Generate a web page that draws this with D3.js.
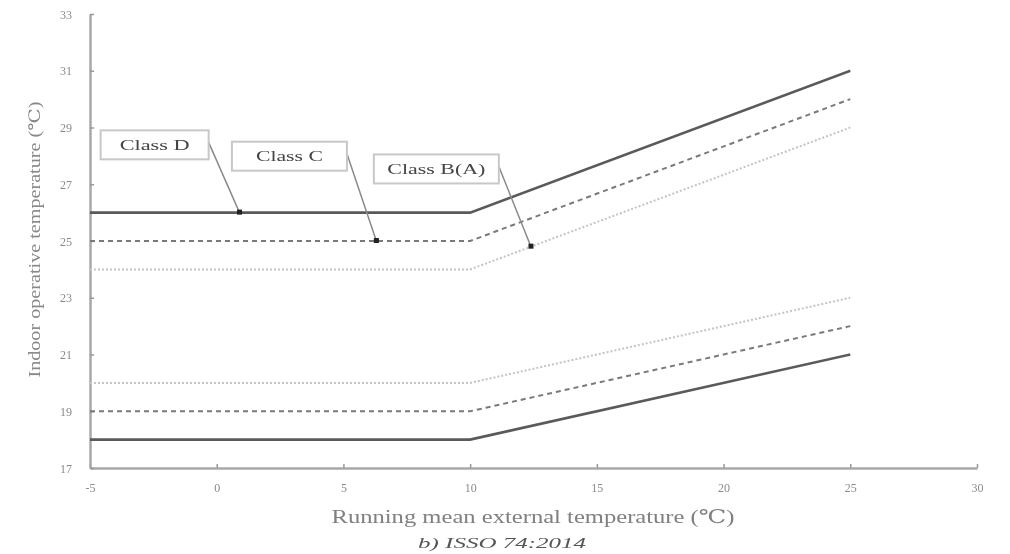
<!DOCTYPE html>
<html>
<head>
<meta charset="utf-8">
<script src="https://cdn.jsdelivr.net/npm/d3@7"></script>
<style>
  body { margin: 0; background: #fff; }
  svg { display: block; }
  text { font-family: "Liberation Serif", "DejaVu Serif", serif; }
</style>
</head>
<body>
<svg></svg>
<script>
const width = 1010;
const height = 554;

// breakpoints of the running mean external temperature
const tmBreaks = [-5, 10, 25];
// upper and lower limits per class
const upperD = [26, 26, 31];
const upperC = [25, 25, 30];
const upperB = [24, 24, 29];
const lowerB = [20, 20, 23];
const lowerC = [19, 19, 22];
const lowerD = [18, 18, 21];

const xTicks = [-5, 0, 5, 10, 15, 20, 25, 30];
const yTicks = [17, 19, 21, 23, 25, 27, 29, 31, 33];

// label boxes: text, box corner (data), arrow tip (data)
const classLabels = ["Class D", "Class C", "Class B(A)"];
const labelBoxX = [-4.58, 0.6, 6.2];
const labelBoxY = [28.9, 28.5, 28.05];
const tipX = [0.9, 6.3, 12.4];
const tipY = [26, 25, 24.8];

const x = d3.scaleLinear().domain([-5, 30]).range([90, 977]);
const y = d3.scaleLinear().domain([17, 33]).range([468, 14]);

const svg = d3.select("svg").attr("width", width).attr("height", height);

svg.append("defs").append("filter")
    .attr("id", "soft")
  .append("feGaussianBlur")
    .attr("stdDeviation", 0.6);

const g = svg.append("g").attr("filter", "url(#soft)");

// axes
const xAxis = d3.axisBottom(x).tickValues(xTicks).tickSize(-4).tickSizeOuter(0).tickPadding(15);
const yAxis = d3.axisLeft(y).tickValues(yTicks).tickSize(-4).tickSizeOuter(0).tickPadding(18);

const gx = g.append("g")
    .attr("transform", "translate(0," + y(17) + ")")
    .call(xAxis);
const gy = g.append("g")
    .attr("transform", "translate(" + x(-5) + ",0)")
    .call(yAxis);

[gx, gy].forEach(a => {
  a.select(".domain").attr("stroke", "#a8a8a8").attr("stroke-width", 2.5);
  a.selectAll(".tick line").attr("stroke", "#999").attr("stroke-width", 1.5);
  a.selectAll(".tick text")
    .attr("fill", "#8a8a8a")
    .style("font-size", "12px")
    .style("font-family", "'Liberation Serif', serif");
});
gy.selectAll(".tick text").attr("dy", "0.35em");
gx.selectAll(".tick text").text(d => d < 0 ? "-" + Math.abs(d) : d);

// limit lines
const line = d3.line()
    .x((d, i) => x(tmBreaks[i]))
    .y(d => y(d));

const series = [
  { values: upperD, stroke: "#5a5a5a", width: 2.6, dash: null },
  { values: upperC, stroke: "#7a7a7a", width: 2, dash: "5,4" },
  { values: upperB, stroke: "#c4c4c4", width: 2, dash: "2,2" },
  { values: lowerB, stroke: "#c4c4c4", width: 2, dash: "2,2" },
  { values: lowerC, stroke: "#7a7a7a", width: 2, dash: "5,4" },
  { values: lowerD, stroke: "#5a5a5a", width: 2.6, dash: null }
];

g.selectAll("path.limit")
  .data(series)
  .enter()
  .append("path")
    .attr("class", "limit")
    .attr("fill", "none")
    .attr("d", d => line(d.values))
    .attr("stroke", d => d.stroke)
    .attr("stroke-width", d => d.width)
    .attr("stroke-dasharray", d => d.dash);

// class labels with leader lines
const boxW = [108, 115, 125];
const textW = [70, 67, 98];
const boxH = 29;
classLabels.forEach((lab, i) => {
  const bx = x(labelBoxX[i]);
  const by = y(labelBoxY[i]);
  g.append("line")
    .attr("x1", bx + boxW[i])
    .attr("y1", by + 12)
    .attr("x2", x(tipX[i]))
    .attr("y2", y(tipY[i]))
    .attr("stroke", "#8a8a8a")
    .attr("stroke-width", 1.5);
  g.append("rect")
    .attr("x", x(tipX[i]) - 2.5)
    .attr("y", y(tipY[i]) - 3)
    .attr("width", 5)
    .attr("height", 5)
    .attr("fill", "#222");
  g.append("rect")
    .attr("x", bx)
    .attr("y", by)
    .attr("width", boxW[i])
    .attr("height", boxH)
    .attr("fill", "#fff")
    .attr("stroke", "#c8c8c8")
    .attr("stroke-width", 2);
  g.append("text")
    .attr("x", bx + boxW[i] / 2)
    .attr("y", by + boxH / 2)
    .attr("dy", "0.35em")
    .style("text-anchor", "middle")
    .style("font-size", "15px")
    .attr("textLength", textW[i])
    .attr("lengthAdjust", "spacingAndGlyphs")
    .attr("fill", "#444")
    .text(lab);
});

// titles
g.append("text")
    .attr("x", 533)
    .attr("y", 523)
    .style("text-anchor", "middle")
    .style("font-size", "19px")
    .attr("textLength", 403)
    .attr("lengthAdjust", "spacingAndGlyphs")
    .attr("fill", "#808080")
    .text("Running mean external temperature (\u2103)");

g.append("text")
    .attr("x", 502)
    .attr("y", 548)
    .style("text-anchor", "middle")
    .style("font-size", "15px")
    .style("font-style", "italic")
    .attr("textLength", 168)
    .attr("lengthAdjust", "spacingAndGlyphs")
    .attr("fill", "#555")
    .text("b) ISSO 74:2014");

g.append("text")
    .attr("transform", "rotate(-90)")
    .attr("x", -y(25.05))
    .attr("y", 40)
    .style("text-anchor", "middle")
    .style("font-size", "16px")
    .attr("textLength", 276)
    .attr("lengthAdjust", "spacingAndGlyphs")
    .attr("fill", "#888")
    .text("Indoor operative temperature (\u2103)");
</script>
</body>
</html>
